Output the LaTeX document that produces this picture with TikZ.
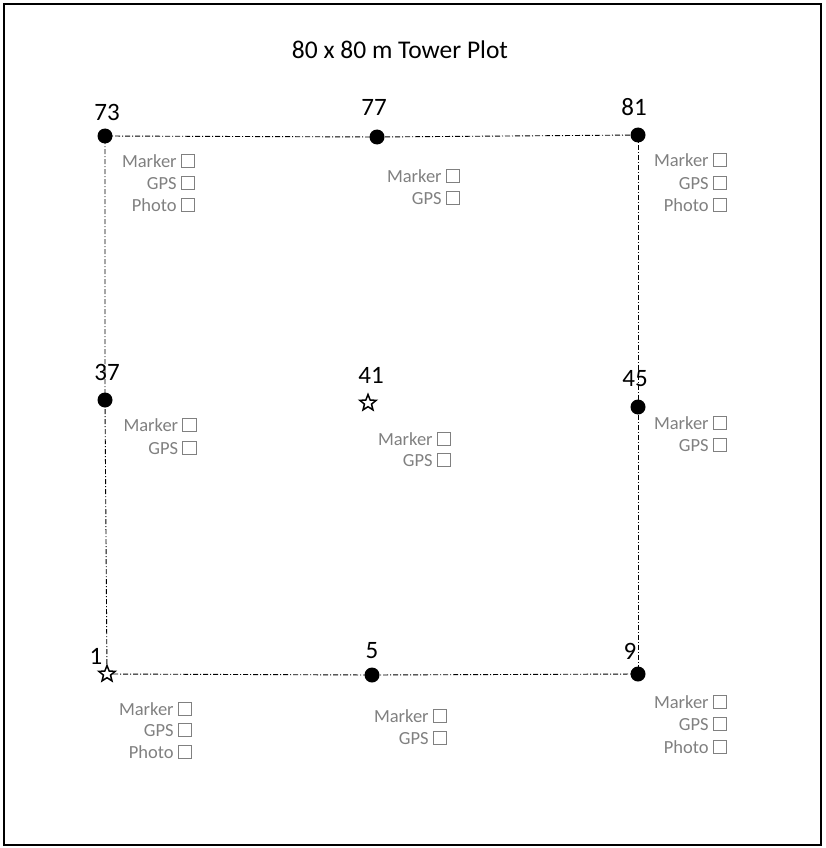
\documentclass[tikz,border=0pt]{standalone}
\usepackage{fontspec}
\setmainfont{Carlito}
\usetikzlibrary{shapes.geometric,backgrounds}
\begin{document}
\begin{tikzpicture}[x=1pt,y=-1pt,
  frame/.style={draw=black, line width=1.2pt},
  dot/.style={circle, fill=black, inner sep=0pt, minimum size=15pt},
  starpt/.style={star, star points=5, star point ratio=2.3, draw=black, fill=white, line width=1.5pt, inner sep=0pt, minimum size=17pt},
  num/.style={font=\fontsize{25}{25}\selectfont, inner sep=0pt, text height=16pt, text depth=0pt},
  cb/.style={draw=gray, line width=0.8pt, minimum size=13.5pt, inner sep=0pt},
  cblab/.style={text=gray, font=\fontsize{18.5}{18.5}\selectfont, inner sep=0pt, text height=12pt, text depth=0pt},
  boundary/.style={line width=0.9pt, dash pattern=on 5pt off 2pt on 1pt off 2pt}
]
\useasboundingbox (0,0) rectangle (825,848);
\draw[frame] (4,4) rectangle (821,845);

\node[font=\fontsize{25.5}{25.5}\selectfont, inner sep=0pt] (title) at (400,50) {80 x 80 m Tower Plot};

% corner and midpoints
\node[dot] (p73) at (105,136) {};
\node[dot] (p77) at (377,137) {};
\node[dot] (p81) at (638,135) {};
\node[dot] (p37) at (105,400) {};
\node[starpt] (p41) at (368,403) {};
\node[dot] (p45) at (638,407) {};
\node[starpt] (p1) at (107,674) {};
\node[dot] (p5) at (372,675) {};
\node[dot] (p9) at (638,674) {};

\begin{pgfonlayer}{background}
\draw[boundary] (p73.center) -- (p77.center) -- (p81.center);
\draw[boundary] (p81.center) -- (p45.center) -- (p9.center);
\draw[boundary] (p9.center) -- (p5.center) -- (p1.center);
\draw[boundary] (p1.center) -- (p37.center) -- (p73.center);
\end{pgfonlayer}

% numbers
\node[num] (n73) at (107,113) {73};
\node[num] (n77) at (374,108) {77};
\node[num] (n81) at (634,108) {81};
\node[num] (n37) at (107,372) {37};
\node[num] (n41) at (371,375) {41};
\node[num] (n45) at (635,378) {45};
\node[num] (n1) at (96,656) {1};
\node[num] (n5) at (372,650) {5};
\node[num] (n9) at (630,651) {9};

% checkboxes
\tikzset{lab/.style={label={[cblab, label distance=4pt]left:#1}}}
\node[cb, lab=Marker] (c73a) at (188,161) {};
\node[cb, lab=GPS]    (c73b) at (188,183) {};
\node[cb, lab=Photo]  (c73c) at (188,205) {};

\node[cb, lab=Marker] (c77a) at (453,176) {};
\node[cb, lab=GPS]    (c77b) at (453,198) {};

\node[cb, lab=Marker] (c81a) at (720,160) {};
\node[cb, lab=GPS]    (c81b) at (720,183) {};
\node[cb, lab=Photo]  (c81c) at (720,205) {};

\node[cb, lab=Marker] (c37a) at (189.5,425) {};
\node[cb, lab=GPS]    (c37b) at (189.5,448) {};

\node[cb, lab=Marker] (c41a) at (444,439) {};
\node[cb, lab=GPS]    (c41b) at (444,460) {};

\node[cb, lab=Marker] (c45a) at (720,423) {};
\node[cb, lab=GPS]    (c45b) at (720,445) {};

\node[cb, lab=Marker] (c1a) at (185,709) {};
\node[cb, lab=GPS]    (c1b) at (185,730) {};
\node[cb, lab=Photo]  (c1c) at (185,752) {};

\node[cb, lab=Marker] (c5a) at (440,716) {};
\node[cb, lab=GPS]    (c5b) at (440,738) {};

\node[cb, lab=Marker] (c9a) at (720,702) {};
\node[cb, lab=GPS]    (c9b) at (720,724) {};
\node[cb, lab=Photo]  (c9c) at (720,747) {};
\end{tikzpicture}
\end{document}
